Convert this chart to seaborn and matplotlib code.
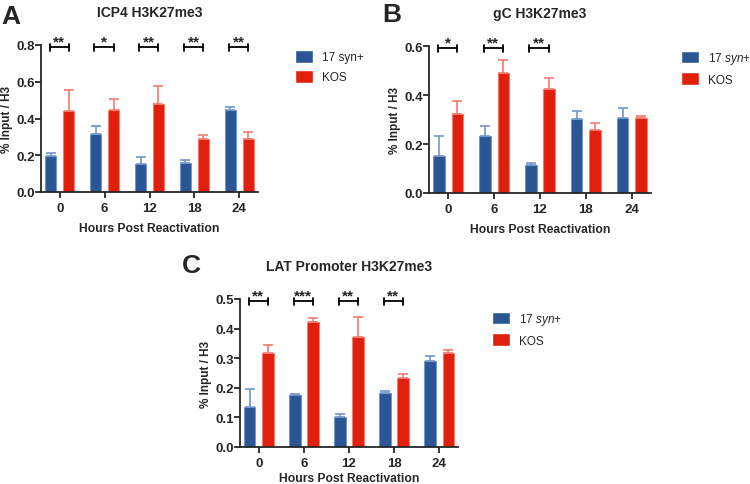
import seaborn as sns
import matplotlib.pyplot as plt
import pandas as pd
import numpy as np

hours = ['0', '6', '12', '18', '24']

# panel A - ICP4
icp4_syn = [0.194, 0.313, 0.152, 0.156, 0.447]
icp4_syn_sd = [0.020, 0.047, 0.038, 0.016, 0.015]
icp4_kos = [0.440, 0.445, 0.478, 0.286, 0.291]
icp4_kos_sd = [0.117, 0.062, 0.099, 0.022, 0.037]
icp4_stars = ['**', '*', '**', '**', '**']

# panel B - gC
gc_syn = [0.151, 0.232, 0.115, 0.304, 0.307]
gc_syn_sd = [0.082, 0.042, 0.006, 0.030, 0.040]
gc_kos = [0.322, 0.489, 0.425, 0.258, 0.308]
gc_kos_sd = [0.054, 0.055, 0.043, 0.027, 0.008]
gc_stars = ['*', '**', '**', '', '']

# panel C - LAT promoter
lat_syn = [0.136, 0.177, 0.101, 0.181, 0.290]
lat_syn_sd = [0.060, 0.002, 0.010, 0.009, 0.017]
lat_kos = [0.319, 0.423, 0.373, 0.232, 0.317]
lat_kos_sd = [0.027, 0.012, 0.067, 0.016, 0.011]
lat_stars = ['**', '***', '**', '**', '']

blue, red = '#2B5593', '#E0200C'
blue_lt, red_lt = '#7396CB', '#F27A6E'

sns.set_style('ticks')
plt.rcParams['font.family'] = ['Liberation Sans', 'DejaVu Sans']
plt.rcParams['mathtext.fontset'] = 'custom'
plt.rcParams['mathtext.rm'] = 'Liberation Sans'
plt.rcParams['mathtext.it'] = 'Liberation Sans:italic'


def panel(fig, rect, title, letter, syn, syn_sd, kos, kos_sd, stars,
          ymax, ystep, syn_label, leg_xy, letter_xy, xpad=6):
    ax = fig.add_axes(rect)
    df = pd.DataFrame({
        'hour': hours * 2,
        'val': syn + kos,
        'strain': [syn_label] * 5 + ['KOS'] * 5,
    })
    sns.barplot(data=df, x='hour', y='val', hue='strain', order=hours,
                palette=[blue, red], saturation=1, width=0.8, gap=0.38,
                errorbar=None, ax=ax, legend=True)
    bars = ax.patches[:10]
    for p in bars[:5]:
        p.set_edgecolor(blue_lt)
        p.set_linewidth(0.8)
    for p in bars[5:]:
        p.set_edgecolor(red_lt)
        p.set_linewidth(0.8)
    xs = [p.get_x() + p.get_width() / 2 for p in bars]
    ax.errorbar(xs[:5], syn, yerr=[np.zeros(5), syn_sd], fmt='none',
                ecolor=blue_lt, elinewidth=1.2, capsize=3.5, capthick=1.2)
    ax.errorbar(xs[5:], kos, yerr=[np.zeros(5), kos_sd], fmt='none',
                ecolor=red_lt, elinewidth=1.2, capsize=3.5, capthick=1.2)

    # significance brackets
    yb = ymax * 0.985
    for i, s in enumerate(stars):
        if not s:
            continue
        x0, x1 = xs[i] - 0.03, xs[i + 5]
        tick = ymax * 0.025
        ax.plot([x0, x1], [yb, yb], color='black', lw=1.3, clip_on=False)
        ax.plot([x0, x0], [yb - tick, yb + tick], color='black', lw=1.3, clip_on=False)
        ax.plot([x1, x1], [yb - tick, yb + tick], color='black', lw=1.3, clip_on=False)
        ax.annotate(s, ((x0 + x1) / 2, yb), xytext=(0, -1), textcoords='offset points',
                    ha='center', va='bottom', fontsize=11, fontweight='bold',
                    annotation_clip=False)

    ax.set_ylim(0, ymax)
    ax.set_xlim(-0.42, 4.42)
    yt = np.arange(0, ymax + 1e-9, ystep)
    ax.set_yticks(yt)
    ax.set_yticklabels([f'{v:.1f}' for v in yt])
    sns.despine(ax=ax)
    for sp in ['left', 'bottom']:
        ax.spines[sp].set_linewidth(1.3)
    ax.tick_params(width=1.3, length=4, labelsize=9.5)
    ax.tick_params(axis='y', pad=0.5)
    ax.tick_params(axis='x', pad=3)
    for t in ax.get_xticklabels() + ax.get_yticklabels():
        t.set_fontweight('bold')
    ax.set_xlabel('Hours Post Reactivation', fontsize=8.7, fontweight='bold', labelpad=xpad)
    ax.set_ylabel('% Input / H3', fontsize=8.5, fontweight='bold', labelpad=2.5)
    ax.set_title(title, fontsize=10, fontweight='bold', pad=21)

    h, l = ax.get_legend_handles_labels()
    ax.legend(h, l, loc='upper left', bbox_to_anchor=leg_xy, bbox_transform=fig.transFigure,
              frameon=False, borderpad=0, borderaxespad=0, handlelength=1.55,
              handleheight=1.3, handletextpad=0.75, labelspacing=0.55, fontsize=8.5)
    fig.text(letter_xy[0], letter_xy[1], letter, fontsize=19, fontweight='bold',
             va='top', ha='left')
    return ax


fig = plt.figure(figsize=(7.5, 4.85), dpi=100)
W, H = 750, 485


def rect(l, r, b, t):
    return [l / W, 1 - b / H, (r - l) / W, (b - t) / H]


panel(fig, rect(41, 258, 193, 46), 'ICP4 H3K27me3', 'A',
      icp4_syn, icp4_syn_sd, icp4_kos, icp4_kos_sd, icp4_stars,
      0.8, 0.2, '17 syn+', (295 / W, 1 - 51 / H), (1 / W, 1 - 5 / H))
panel(fig, rect(429, 651, 194, 47), 'gC H3K27me3', 'B',
      gc_syn, gc_syn_sd, gc_kos, gc_kos_sd, gc_stars,
      0.6, 0.2, r'17 $\mathit{syn}$+', (681 / W, 1 - 51 / H), (382 / W, 1 - 3 / H))
panel(fig, rect(240, 458, 448, 300), 'LAT Promoter H3K27me3', 'C',
      lat_syn, lat_syn_sd, lat_kos, lat_kos_sd, lat_stars,
      0.5, 0.1, r'17 $\mathit{syn}$+', (492 / W, 1 - 312 / H), (182 / W, 1 - 254 / H),
      xpad=2.5)

fig.savefig('out.png', dpi=100)
